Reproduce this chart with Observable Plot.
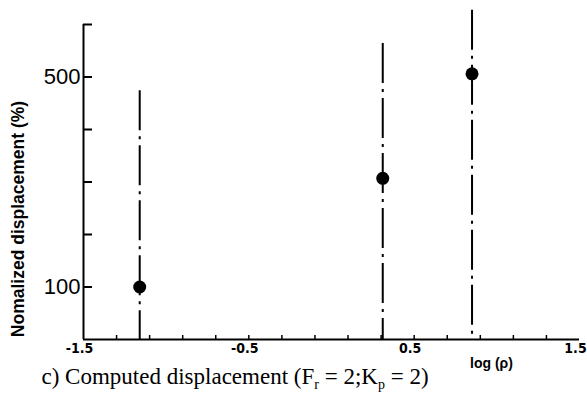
<!DOCTYPE html>
<html>
<head>
<meta charset="utf-8">
<script src="https://cdn.jsdelivr.net/npm/d3@7"></script>
<script src="https://cdn.jsdelivr.net/npm/@observablehq/plot@0.6"></script>
<style>
  body { margin: 0; background: #fff; }
  #chart svg { display: block; }
</style>
</head>
<body>
<div id="chart"></div>
<script>
// Computed displacement versus log(rho)
const logRho = [-1.16, 0.31, 0.85];
const displacement = [100, 307, 506];
const rangeTop = [474, 564, 627];

// Axis ticks and labels
const yTicks = [100, 200, 300, 400, 500, 600];
const yTickLabels = [100, 500];
const xTicks = [-1.3, -1.1, -0.9, -0.7, -0.5, -0.3, -0.1, 0.1, 0.3, 0.5, 0.7, 0.9, 1.1, 1.3];
const xTickLabels = [-1.5, -0.5, 0.5, 1.5];

// Text
const yLabel = "Nomalized displacement (%)";
const xLabel = "log (ρ)";
const captionParts = [
  {t: "c) Computed displacement (F", sub: false},
  {t: "r", sub: true},
  {t: " = 2;K", sub: false},
  {t: "p", sub: true},
  {t: " = 2)", sub: false}
];
const captionText = captionParts.map(p => p.t).join("");

const W = 587, H = 393;
const M = {top: 24, right: 8, bottom: 54, left: 83};
const frameW = W - M.left - M.right;
const frameH = H - M.top - M.bottom;

const points = logRho.map((x, i) => ({x, y: displacement[i], top: rangeTop[i]}));

const sans = "Liberation Sans, Arial, sans-serif";
const narrow = "Liberation Sans Narrow, DejaVu Sans Condensed, sans-serif";

const plot = Plot.plot({
  width: W,
  height: H,
  marginTop: M.top,
  marginRight: M.right,
  marginBottom: M.bottom,
  marginLeft: M.left,
  style: {fontFamily: sans, color: "#000", background: "#fff"},
  x: {domain: [-1.5, 1.5]},
  y: {domain: [0, 600]},
  marks: [
    // dash-dot range lines
    Plot.ruleX(points, {x: "x", y1: "top", y2: () => 0, stroke: "#000", strokeWidth: 2, strokeDasharray: "40,6,3,6"}),
    // computed values
    Plot.dot(points, {x: "x", y: "y", r: 6.5, fill: "#000", stroke: "none"}),
    // axis lines
    Plot.ruleX([-1.5], {y1: 0, y2: 600, stroke: "#000", strokeWidth: 2}),
    Plot.ruleY([0], {stroke: "#000", strokeWidth: 2}),
    // inward ticks
    Plot.tickY(yTicks, {y: d => d, insetRight: frameW - 9, stroke: "#000", strokeWidth: 2}),
    Plot.tickX(xTicks, {x: d => d, insetTop: frameH - 4, stroke: "#000", strokeWidth: 1.5}),
    // tick labels
    Plot.axisY(yTickLabels, {tickSize: 0, tickPadding: 3, label: null, tickFormat: d => String(d),
      fontSize: 22, fontFamily: sans, fill: "#000"}),
    Plot.axisX(xTickLabels, {tickSize: 0, tickPadding: 4, label: null, tickFormat: d => String(d),
      dx: -4, fontSize: 14, fontWeight: "bold", fontFamily: narrow, fill: "#000"}),
    // axis titles
    Plot.text([yLabel], {frameAnchor: "left", text: d => d, rotate: -90, dx: 18 - M.left, dy: 37,
      textAnchor: "middle", fontSize: 17.5, fontWeight: "bold", fontFamily: sans, fill: "#000"}),
    Plot.text([xLabel], {frameAnchor: "bottom-right", text: d => d, dx: -88, dy: 28,
      textAnchor: "middle", fontSize: 14, fontWeight: "bold", fontFamily: sans, fill: "#000"}),
    // caption
    Plot.text([captionText], {frameAnchor: "bottom-left", text: d => d,
      dx: 41 - M.left, dy: 44, textAnchor: "start", lineAnchor: "bottom",
      fontSize: 23, fontFamily: "Liberation Serif, Times New Roman, serif", fill: "#000"})
  ]
});

// subscripts in the caption
const ns = "http://www.w3.org/2000/svg";
plot.querySelectorAll("text").forEach(cap => {
  if (cap.textContent !== captionText) return;
  cap.textContent = "";
  captionParts.forEach((p, i) => {
    const ts = document.createElementNS(ns, "tspan");
    ts.textContent = p.t;
    if (p.sub) {
      ts.setAttribute("dy", "5");
      ts.setAttribute("font-size", "14");
    } else if (i > 0) {
      ts.setAttribute("dy", "-5");
    }
    cap.appendChild(ts);
  });
});

document.getElementById("chart").appendChild(plot);
</script>
</body>
</html>
